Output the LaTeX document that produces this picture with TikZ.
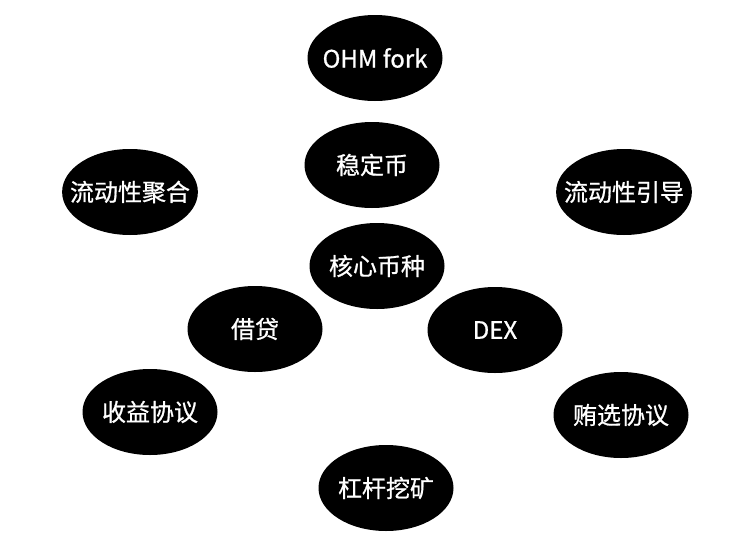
\documentclass[tikz,border=0pt]{standalone}
\usepackage{xcolor}
\usepackage{fontspec}
\setmainfont{Noto Sans CJK SC}
\newfontfamily\topicfont[FakeBold=0.8]{Noto Sans CJK SC}
\usepackage{tikz}
\usetikzlibrary{shapes.geometric}

\begin{document}
\begin{tikzpicture}[x=1pt, y=-1pt,
    topic/.style={ellipse, fill=black, text=white, inner ysep=0pt, inner xsep=-12pt,
                  minimum width=135pt, minimum height=86pt,
                  font=\topicfont\fontsize{24}{28}\selectfont}
]
\useasboundingbox (0,0) rectangle (740,552);

\node[topic] (ohm)    at (375, 58)  {OHM fork};
\node[topic] (stable) at (372, 165) {稳定币};
\node[topic] (core)   at (377, 266) {核心币种};
\node[topic] (aggr)   at (130, 192) {流动性聚合};
\node[topic] (guide)  at (624, 192) {流动性引导};
\node[topic] (lend)   at (255, 329) {借贷};
\node[topic] (dex)    at (495, 330) {DEX};
\node[topic] (yield)  at (150, 412) {收益协议};
\node[topic] (bribe)  at (621, 415) {贿选协议};
\node[topic] (lever)  at (386, 488) {杠杆挖矿};
\end{tikzpicture}
\end{document}
